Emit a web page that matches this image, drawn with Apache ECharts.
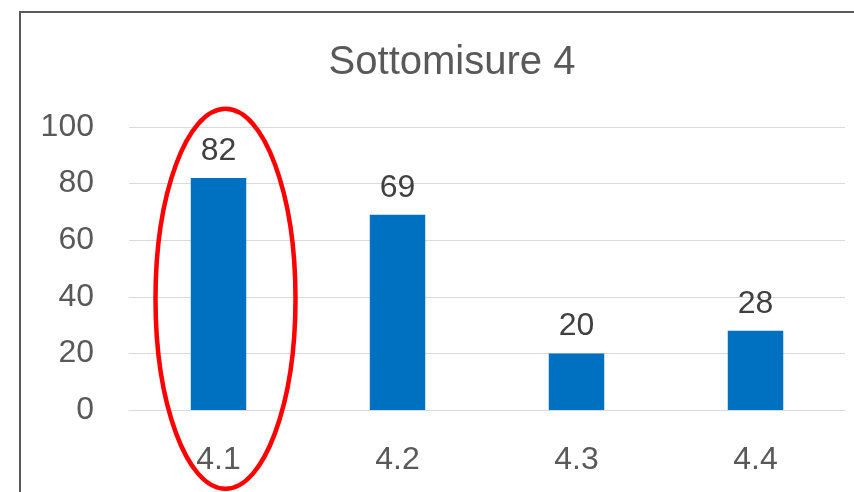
<!DOCTYPE html>
<html>
<head>
<meta charset="utf-8">
<script src="https://cdn.jsdelivr.net/npm/echarts@6/dist/echarts.min.js"></script>
<style>
  html, body { margin: 0; padding: 0; background: #fff; }
  #chart { width: 854px; height: 492px; }
</style>
</head>
<body>
<div id="chart"></div>
<script>
// dati del grafico
var categories = ["4.1", "4.2", "4.3", "4.4"];
var values = [82, 69, 20, 28];
var yTicks = [0, 20, 40, 60, 80, 100];
var chartTitle = "Sottomisure 4";
var highlighted = "4.1"; // categoria cerchiata in rosso

var font = "Liberation Sans, Arial, sans-serif";
var myChart = echarts.init(document.getElementById("chart"));

var option = {
  animation: false,
  backgroundColor: "#ffffff",
  title: {
    text: chartTitle,
    left: 447,
    textAlign: "center",
    top: 38,
    textStyle: { fontFamily: font, fontSize: 40, fontWeight: "normal", color: "#595959" }
  },
  grid: { left: 129, right: 9, top: 127, bottom: 82 },
  xAxis: {
    type: "category",
    data: categories,
    axisLine: { lineStyle: { color: "#d9d9d9", width: 1 } },
    axisTick: { show: false },
    axisLabel: { fontFamily: font, fontSize: 32, color: "#595959", margin: 34 }
  },
  yAxis: {
    type: "value",
    min: yTicks[0],
    max: yTicks[yTicks.length - 1],
    interval: yTicks[1] - yTicks[0],
    axisLine: { show: false },
    axisTick: { show: false },
    splitLine: { lineStyle: { color: "#d9d9d9", width: 1 } },
    axisLabel: { fontFamily: font, fontSize: 32, color: "#595959", margin: 35 }
  },
  series: [
    {
      type: "bar",
      data: values,
      barWidth: "31%",
      itemStyle: { color: "#0070C0" },
      label: {
        show: true,
        position: "top",
        distance: 11,
        fontFamily: font,
        fontSize: 32,
        color: "#404040"
      }
    }
  ]
};
myChart.setOption(option);

// cornice e ellisse rossa attorno alla categoria evidenziata
var center = myChart.convertToPixel({ gridIndex: 0 }, [highlighted, 40]);
myChart.setOption({
  graphic: [
    {
      type: "rect",
      shape: { x: 20, y: 12, width: 900, height: 600 },
      style: { fill: null, stroke: "#595959", lineWidth: 2 },
      silent: true
    },
    {
      type: "ellipse",
      shape: { cx: center[0] + 7, cy: center[1] + 2, rx: 70, ry: 190 },
      style: { fill: null, stroke: "#ff0000", lineWidth: 4.5 },
      silent: true,
      z: 100
    }
  ]
});
</script>
</body>
</html>
